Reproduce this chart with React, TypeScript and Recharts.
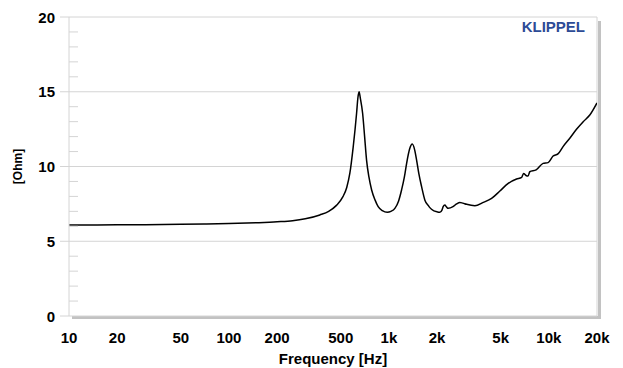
import React from "react";
import { LineChart, Line, XAxis, YAxis, ReferenceLine, Label } from "recharts";

// impedance curve
const FREQ = [
  10, 15, 20, 30, 50, 70, 100, 150, 200, 250, 300, 370, 420, 470, 516, 545, 570, 598, 628, 640,
  651, 662, 685, 705, 725, 750, 780, 820, 857, 910, 977, 1030, 1090, 1150, 1200, 1250, 1290, 1350,
  1400, 1450, 1490, 1540, 1601, 1679, 1761, 1803, 1900, 1986, 2083, 2150, 2184, 2238, 2290, 2346,
  2515, 2650, 2778, 2900, 3062, 3447, 3890, 4385, 4943, 5572, 6281, 6758, 6950, 7200, 7413, 7600,
  8325, 9203, 9895, 10630, 11400, 12270, 13520, 14890, 16400, 18030, 20000,
];
const OHM = [
  6.09, 6.09, 6.1, 6.11, 6.13, 6.15, 6.18, 6.24, 6.3, 6.37, 6.5, 6.76, 7.0, 7.4, 7.98, 8.6, 9.55, 11.3, 13.56, 14.6,
  15.0, 14.6, 13.56, 12.0, 10.43, 9.3, 8.43, 7.75, 7.31, 7.05, 6.94, 7.0, 7.2, 7.7, 8.43, 9.3, 10.2, 11.2,
  11.5, 11.1, 10.43, 9.5, 8.65, 7.75, 7.4, 7.25, 7.05, 6.98, 6.94, 7.1, 7.31, 7.42, 7.3, 7.2,
  7.31, 7.5, 7.6, 7.55, 7.47, 7.38, 7.6, 7.87, 8.36, 8.87, 9.16, 9.27, 9.54, 9.4, 9.36, 9.65,
  9.77, 10.21, 10.26, 10.7, 10.84, 11.33, 11.89, 12.49, 13.0, 13.44, 14.25,
];

const X_TICKS = [10, 20, 50, 100, 200, 500, 1000, 2000, 5000, 10000, 20000];
const X_LABELS = ["10", "20", "50", "100", "200", "500", "1k", "2k", "5k", "10k", "20k"];
const Y_TICKS = Array.from({ length: 21 }, (_, i) => i);
const Y_GRID = [5, 10, 15, 20];

const data = FREQ.map((f, i) => ({ f, ohm: OHM[i] }));

const FONT = "'Liberation Sans', Arial, sans-serif";
const GRID = "#d4d4d4";

const YTick = (props: any) => {
  const { x, y, payload } = props;
  const major = payload.value % 5 === 0;
  return (
    <g>
      {major ? (
        <line x1={x - 9} x2={x} y1={y} y2={y} stroke={GRID} />
      ) : (
        <line x1={x} x2={x + 9} y1={y} y2={y} stroke={GRID} />
      )}
      {major && (
        <text x={x - 14} y={y} dy={5.5} textAnchor="end" fontFamily={FONT} fontWeight="bold" fontSize={15} fill="#000">
          {payload.value}
        </text>
      )}
    </g>
  );
};

export default function App() {
  return (
    <div style={{ position: "absolute", left: 0, top: 0, width: 623, height: 368, background: "#fff" }}>
      {/* frame shadow */}
      <div style={{ position: "absolute", left: 72, top: 316, width: 529, height: 3, background: "#c2c2c2" }} />
      <div style={{ position: "absolute", left: 598, top: 21, width: 3, height: 298, background: "#c2c2c2" }} />

      <div style={{ position: "absolute", left: 0, top: 0 }}>
        <LineChart width={623} height={368} data={data} margin={{ top: 17, right: 26, bottom: 22, left: 0 }}>
          <XAxis
            dataKey="f"
            type="number"
            scale="log"
            domain={[10, 20000]}
            ticks={X_TICKS}
            interval={0}
            allowDataOverflow
            tickFormatter={(v) => X_LABELS[X_TICKS.indexOf(v)]}
            tick={{ fontFamily: FONT, fontWeight: "bold", fontSize: 15, fill: "#000" }}
            tickLine={false}
            tickSize={0}
            tickMargin={16}
            height={30}
            axisLine={{ stroke: GRID }}
          >
            <Label
              value="Frequency [Hz]"
              position="bottom"
              offset={7}
              style={{ fontFamily: FONT, fontWeight: "bold", fontSize: 15, fill: "#000" }}
            />
          </XAxis>
          <YAxis
            type="number"
            domain={[0, 20]}
            ticks={Y_TICKS}
            interval={0}
            width={69}
            tick={<YTick />}
            tickLine={false}
            tickSize={0}
            tickMargin={0}
            axisLine={{ stroke: GRID }}
          >
            <Label
              value="[Ohm]"
              angle={-90}
              position="insideLeft"
              offset={18}
              style={{ fontFamily: FONT, fontWeight: "bold", fontSize: 12, fill: "#000", textAnchor: "middle" }}
            />
          </YAxis>
          {Y_GRID.map((v) => (
            <ReferenceLine key={v} y={v} stroke={GRID} strokeWidth={1} />
          ))}
          <ReferenceLine x={20000} stroke={GRID} strokeWidth={1} />
          <Line
            type="monotone"
            dataKey="ohm"
            stroke="#000"
            strokeWidth={1.5}
            dot={false}
            isAnimationActive={false}
          />
        </LineChart>
      </div>

      <div
        style={{
          position: "absolute",
          right: 38,
          top: 19,
          fontFamily: FONT,
          fontWeight: "bold",
          fontSize: 15,
          lineHeight: "15px",
          color: "#2d4b96",
        }}
      >
        KLIPPEL
      </div>
    </div>
  );
}
